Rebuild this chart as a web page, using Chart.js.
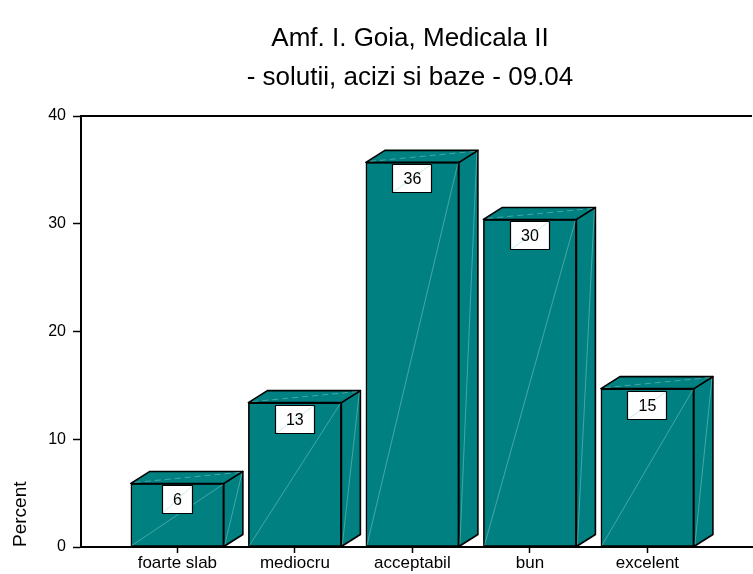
<!DOCTYPE html>
<html>
<head>
<meta charset="utf-8">
<script src="https://cdn.jsdelivr.net/npm/chart.js@4/dist/chart.umd.min.js"></script>
<style>
  html, body { margin: 0; padding: 0; background: #ffffff; }
  #wrap { width: 753px; height: 574px; }
</style>
</head>
<body>
<div id="wrap"><canvas id="c" width="753" height="574"></canvas></div>
<script>
// ---- data ----
const titleLines = ["Amf. I. Goia, Medicala II", "- solutii, acizi si baze - 09.04"];
const categories = ["foarte slab", "mediocru", "acceptabil", "bun", "excelent"];
const percents = [5.9, 13.4, 35.7, 30.4, 14.7];
const yTicks = [0, 10, 20, 30, 40];
const yTitle = "Percent";

// ---- style ----
const FONT = "'Liberation Sans', Arial, sans-serif";
const TEAL = "#008080";
const DX = 19, DY = 12;

const bar3d = {
  id: 'bar3d',
  afterDraw(chart) {
    const ctx = chart.ctx;
    const ca = chart.chartArea;
    ctx.save();
    // top frame line
    ctx.strokeStyle = '#000';
    ctx.lineWidth = 2;
    ctx.beginPath();
    ctx.moveTo(ca.left, ca.top);
    ctx.lineTo(ca.right, ca.top);
    ctx.stroke();
    // title
    ctx.fillStyle = '#000';
    ctx.font = '26px ' + FONT;
    ctx.textAlign = 'center';
    ctx.textBaseline = 'middle';
    titleLines.forEach((s, k) => ctx.fillText(s, 410, 39 + k * 39));
    ctx.restore();
  },
  afterDatasetsDraw(chart) {
    const ctx = chart.ctx;
    const meta = chart.getDatasetMeta(0);
    ctx.save();
    meta.data.forEach((bar, i) => {
      const p = bar.getProps(['x', 'y', 'base', 'width'], true);
      const l = p.x - p.width / 2, r = p.x + p.width / 2, t = p.y, b = p.base;
      ctx.lineJoin = 'round';
      // side face
      ctx.beginPath();
      ctx.moveTo(r, b); ctx.lineTo(r + DX, b - DY); ctx.lineTo(r + DX, t - DY); ctx.lineTo(r, t); ctx.closePath();
      ctx.fillStyle = TEAL; ctx.fill();
      ctx.strokeStyle = '#000'; ctx.lineWidth = 1.6; ctx.stroke();
      // top face
      ctx.beginPath();
      ctx.moveTo(l, t); ctx.lineTo(l + DX, t - DY); ctx.lineTo(r + DX, t - DY); ctx.lineTo(r, t); ctx.closePath();
      ctx.fillStyle = TEAL; ctx.fill();
      ctx.stroke();
      // faint seam lines
      ctx.strokeStyle = 'rgba(190,235,235,0.45)';
      ctx.lineWidth = 0.8;
      ctx.beginPath(); ctx.moveTo(l + 1, b - 1); ctx.lineTo(r - 1, t + 1); ctx.stroke();
      ctx.beginPath(); ctx.moveTo(r + 1, b - 2); ctx.lineTo(r + DX - 1, t - DY + 2); ctx.stroke();
      ctx.setLineDash([6, 4]);
      ctx.beginPath(); ctx.moveTo(l + 4, t - 1); ctx.lineTo(r + DX - 3, t - DY + 1); ctx.stroke();
      ctx.setLineDash([]);
      // value label box
      const txt = String(Math.round(percents[i]));
      ctx.font = '16px ' + FONT;
      const tw = ctx.measureText(txt).width;
      const bw = Math.round(tw + 22), bh = 29;
      const bx = Math.round(p.x - bw / 2), by = Math.round(t + 2);
      ctx.fillStyle = '#fff';
      ctx.fillRect(bx, by, bw, bh);
      ctx.strokeStyle = 'rgba(150,220,220,0.7)';
      ctx.lineWidth = 0.8;
      ctx.beginPath(); ctx.moveTo(bx, by + bh); ctx.lineTo(bx + bw, by); ctx.stroke();
      ctx.strokeStyle = '#000'; ctx.lineWidth = 1.2;
      ctx.strokeRect(bx + 0.5, by + 0.5, bw - 1, bh - 1);
      ctx.fillStyle = '#000';
      ctx.textAlign = 'center'; ctx.textBaseline = 'middle';
      ctx.fillText(txt, p.x, by + bh / 2 + 1);
    });
    ctx.restore();
  }
};

new Chart(document.getElementById('c'), {
  type: 'bar',
  data: {
    datasets: [{
      data: percents.map((v, i) => ({ x: i, y: v })),
      backgroundColor: TEAL,
      borderColor: '#000',
      borderWidth: 1.6,
      borderSkipped: false,
      barThickness: 93
    }]
  },
  plugins: [bar3d],
  options: {
    responsive: false,
    animation: false,
    devicePixelRatio: 1,
    layout: { padding: { left: 0, right: 1, top: 116, bottom: 0 } },
    plugins: {
      legend: { display: false },
      tooltip: { enabled: false },
      title: { display: false }
    },
    scales: {
      x: {
        type: 'linear',
        min: -0.82,
        max: 4.89,
        offset: false,
        grid: { display: true, drawOnChartArea: false, offset: false, tickLength: 6, color: '#000', tickWidth: 1.5 },
        border: { display: true, color: '#000', width: 2 },
        afterFit(scale) { scale.height = 27; },
        ticks: {
          stepSize: 1,
          includeBounds: false,
          autoSkip: false,
          maxRotation: 0,
          padding: 0,
          color: '#000',
          font: { family: FONT, size: 17 },
          callback: (v) => Number.isInteger(v) && categories[v] !== undefined ? categories[v] : ''
        }
      },
      y: {
        min: yTicks[0],
        max: yTicks[yTicks.length - 1],
        afterFit(scale) { scale.width = 81; },
        afterBuildTicks(scale) { scale.ticks = yTicks.map(v => ({ value: v })); },
        grid: { display: true, drawOnChartArea: false, tickLength: 8, color: '#000', tickWidth: 1.5 },
        border: { display: true, color: '#000', width: 2 },
        ticks: {
          padding: 7,
          color: '#000',
          font: { family: FONT, size: 16 }
        },
        title: {
          display: true,
          text: yTitle,
          align: 'start',
          color: '#000',
          font: { family: FONT, size: 19 },
          padding: { top: 9, bottom: 0 }
        }
      }
    }
  }
});
</script>
</body>
</html>
